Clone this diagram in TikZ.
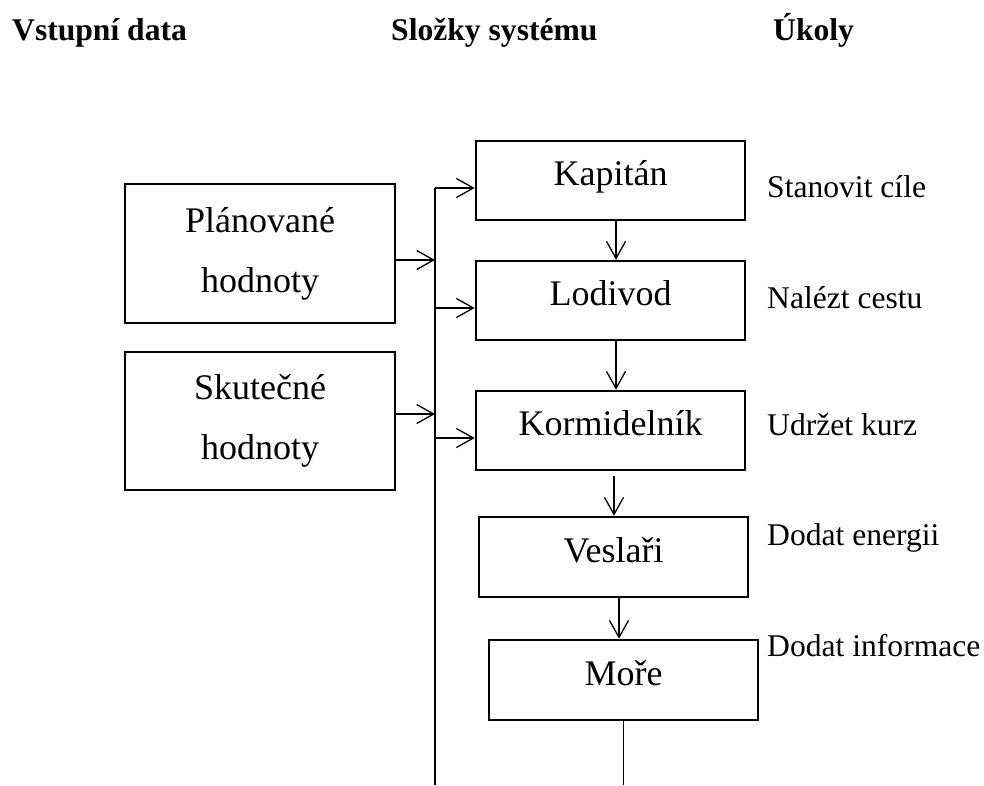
\documentclass[tikz,border=0pt]{standalone}
\usepackage{fontspec}
\setmainfont{Liberation Serif}
\usetikzlibrary{arrows.meta}
\begin{document}
\begin{tikzpicture}[x=1pt,y=-1pt,
  box/.style={draw, line width=2.6pt, inner sep=0pt, minimum width=269pt, minimum height=79pt,
    font=\fontsize{36}{58}\selectfont, text height=22pt, text depth=12pt},
  inbox/.style={draw, line width=2.6pt, inner sep=0pt, minimum width=270pt, align=center,
    font=\fontsize{36}{60}\selectfont},
  lbl/.style={anchor=base west, inner sep=0pt, font=\fontsize{31.6}{38}\selectfont},
  hdr/.style={anchor=base west, inner sep=0pt, font=\fontsize{31.6}{38}\selectfont\bfseries},
  conn/.style={line width=1.3pt},
  arr/.style={conn, -{Straight Barb[length=17pt,width=19pt]}}]
\useasboundingbox (0,0) rectangle (984,785);

% headers
\node[hdr] (h1) at (12,40) {Vstupní data};
\node[hdr] (h2) at (391,40) {Složky systému};
\node[hdr] (h3) at (773,40) {Úkoly};

% input boxes
\node[inbox, minimum height=139pt] (plan) at (260,253.5) {Plánované\\hodnoty};
\node[inbox, minimum height=138pt] (skut) at (260,421) {Skutečné\\hodnoty};

% system components
\node[box] (kap) at (610.5,180.5) {Kapitán};
\node[box] (lod) at (610.5,300.5) {Lodivod};
\node[box] (korm) at (610.5,430.5) {Kormidelník};
\node[box, minimum height=80pt] (ves) at (613.5,557) {Veslaři};
\node[box, minimum height=80pt] (more) at (623.5,680) {Moře};

% tasks
\node[lbl] (t1) at (767,197) {Stanovit cíle};
\node[lbl] (t2) at (767,308) {Nalézt cestu};
\node[lbl] (t3) at (767,435) {Udržet kurz};
\node[lbl] (t4) at (767,545) {Dodat energii};
\node[lbl] (t5) at (767,656) {Dodat informace};

% bus
\coordinate (bustop) at (435,188);
\coordinate (busbot) at (435,785);
\coordinate (moreend) at (623.5,785);
\draw[conn] (bustop) -- (busbot);

% inputs to bus
\draw[arr] ([yshift=-6.5pt]plan.east) -- ([yshift=-6.5pt]plan.east -| bustop);
\draw[arr] ([yshift=7pt]skut.east) -- ([yshift=7pt]skut.east -| bustop);

% bus to components
\draw[arr] (bustop) -- ([yshift=-7.5pt]kap.west);
\draw[arr] ([yshift=-7.5pt]lod.west -| bustop) -- ([yshift=-7.5pt]lod.west);
\draw[arr] ([yshift=-7.5pt]korm.west -| bustop) -- ([yshift=-7.5pt]korm.west);

% chain
\draw[arr] ([xshift=5.5pt]kap.south) -- ([xshift=5.5pt]lod.north);
\draw[arr] ([xshift=5.5pt]lod.south) -- ([xshift=5.5pt]korm.north);
\draw[arr] ([xshift=3.5pt,yshift=-5pt]korm.south) -- ([xshift=0.5pt]ves.north);
\draw[arr] ([xshift=5.5pt]ves.south) -- ([xshift=-4.5pt]more.north);
\draw[conn] (more.south) -- (moreend);
\end{tikzpicture}
\end{document}
